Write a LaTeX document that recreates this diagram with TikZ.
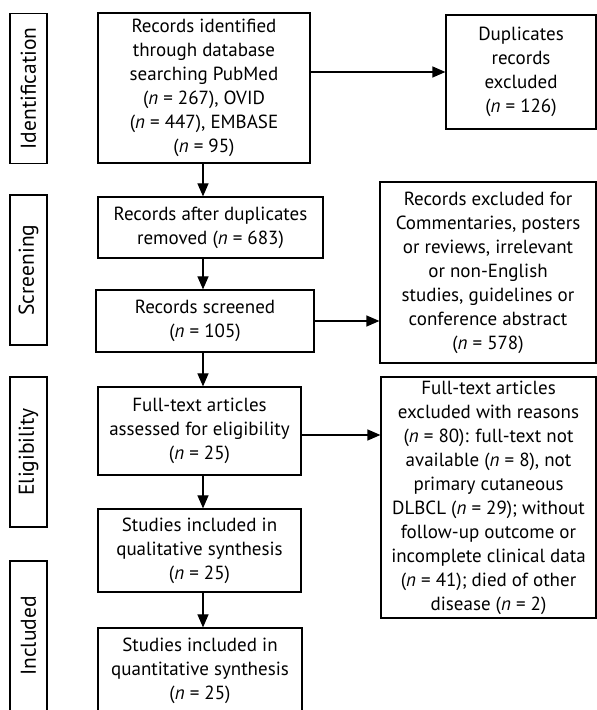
\documentclass[tikz,border=0pt]{standalone}
\usepackage{fontspec}
\setmainfont{PT Sans}
\usetikzlibrary{arrows.meta, positioning}

\begin{document}
\begin{tikzpicture}[
  x=1pt, y=1pt,
  box/.style={rectangle, draw, line width=1.2pt, inner sep=0pt, align=center, font=\fontsize{19}{24}\selectfont},
  stage/.style={box, rotate=90, minimum width=150pt, minimum height=37pt, font=\fontsize{21.5}{24}\selectfont},
  >={Triangle[length=13pt, width=11pt]}
]
\useasboundingbox (0,0) rectangle (597,710);
% stage labels
\node[stage] (ident) at (28.5,621.5) {Identification};
\node[stage] (screen) at (28.5,440) {Screening};
\node[stage] (elig) at (28.5,258) {Eligibility};
\node[stage] (incl) at (28.5,74) {Included};

% main column
\node[box, minimum width=212pt, minimum height=150pt] (found) at (204,622) {Records identified\\through database\\searching PubMed\\(\textit{n} = 267), OVID\\(\textit{n} = 447), EMBASE\\(\textit{n} = 95)};
\node[box, minimum width=225pt, minimum height=61pt] (nodup) at (210.5,482.5) {Records after duplicates\\removed (\textit{n} = 683)};
\node[box, minimum width=218pt, minimum height=62pt] (screened) at (205,389) {Records screened\\(\textit{n} = 105)};
\node[box, minimum width=203pt, minimum height=88pt] (fulltext) at (199.5,279) {Full-text articles\\assessed for eligibility\\(\textit{n} = 25)};
\node[box, minimum width=203pt, minimum height=83pt] (qual) at (199.5,159.5) {Studies included in\\qualitative synthesis\\(\textit{n} = 25)};
\node[box, minimum width=204pt, minimum height=86pt] (quant) at (200,39) {Studies included in\\quantitative synthesis\\(\textit{n} = 25)};

% exclusions
\node[box, minimum width=150pt, minimum height=114pt] (dupl) at (521,638) {Duplicates\\records\\excluded\\(\textit{n} = 126)};
\node[box, minimum width=216pt, minimum height=181pt] (recex) at (488,437.5) {Records excluded for\\Commentaries, posters\\or reviews, irrelevant\\or non-English\\studies, guidelines or\\conference abstract\\(\textit{n} = 578)};
\node[box, minimum width=215pt, minimum height=241pt] (ftex) at (488.5,212.5) {Full-text articles\\excluded with reasons\\(\textit{n} = 80): full-text not\\available (\textit{n} = 8), not\\primary cutaneous\\DLBCL (\textit{n} = 29); without\\follow-up outcome or\\incomplete clinical data\\(\textit{n} = 41); died of other\\disease (\textit{n} = 2)};

\coordinate (spine) at (203,0);
\draw[->, line width=1.2pt] (found.south -| spine) -- (nodup.north -| spine);
\draw[->, line width=1.2pt] (nodup.south -| spine) -- (screened.north -| spine);
\draw[->, line width=1.2pt] (screened.south -| spine) -- (fulltext.north -| spine);
\draw[->, line width=1.2pt] (fulltext.south -| spine) -- (qual.north -| spine);
\draw[->, line width=1.2pt] (qual.south -| spine) -- (quant.north -| spine);
\draw[->, line width=1.2pt] (found.east |- dupl) -- (dupl.west);
\draw[->, line width=1.2pt] (screened.east) -- (screened -| recex.west);
\draw[->, line width=1.2pt] (fulltext.east |- 0,275) -- (ftex.west |- 0,275);
\end{tikzpicture}
\end{document}
